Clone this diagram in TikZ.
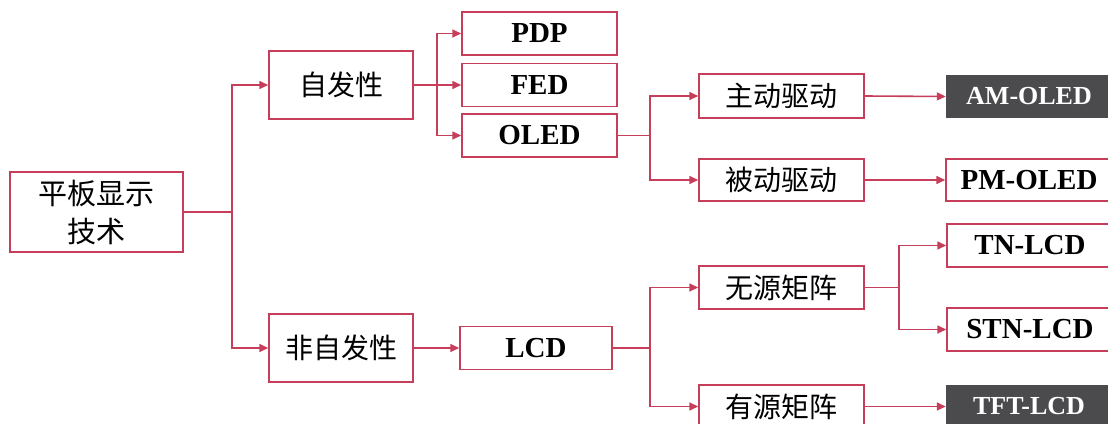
\documentclass[tikz,border=0pt]{standalone}
\usepackage{fontspec}
\setmainfont{Liberation Serif}
\newfontfamily\cjk{Noto Sans CJK SC}
\usetikzlibrary{arrows.meta}
\definecolor{lnred}{RGB}{199,62,90}
\definecolor{darkbox}{RGB}{75,75,78}
\tikzset{
  box/.style={draw=lnred, line width=1.5pt, fill=white, inner sep=0pt, anchor=center},
  cbox/.style={box, font=\cjk\fontsize{28}{36}\selectfont},
  ebox/.style={box, font=\bfseries\fontsize{29}{34}\selectfont},
  dbox/.style={draw=none, fill=darkbox, text=white, inner sep=0pt, anchor=center, font=\bfseries\fontsize{26}{30}\selectfont},
  conn/.style={draw=lnred, line width=1.6pt},
  arr/.style={conn, -{Triangle[length=9pt,width=8pt]}}
}
\begin{document}
\begin{tikzpicture}[x=1pt,y=-1pt]
\useasboundingbox (0,0) rectangle (1108,423);
\clip (0,0) rectangle (1108,423);
% nodes
\node[cbox, minimum width=173pt, minimum height=80pt, align=center, font=\cjk\fontsize{29}{37}\selectfont] (root) at (96.5,212) {平板显示\\[1pt]技术};
\node[cbox, minimum width=144pt, minimum height=68pt] (zifa) at (341,85) {自发性};
\node[cbox, minimum width=144pt, minimum height=68pt] (feizifa) at (341,348) {非自发性};
\node[ebox, minimum width=155pt, minimum height=43pt] (pdp) at (539.5,33.5) {PDP};
\node[ebox, minimum width=155pt, minimum height=43pt] (fed) at (539.5,85) {FED};
\node[ebox, minimum width=155pt, minimum height=43pt] (oled) at (539.5,135.5) {OLED};
\node[ebox, minimum width=152pt, minimum height=43pt] (lcd) at (536,348) {LCD};
\node[cbox, minimum width=165pt, minimum height=44pt] (zhudong) at (781.5,96) {主动驱动};
\node[cbox, minimum width=165pt, minimum height=42pt] (beidong) at (781.5,180) {被动驱动};
\node[cbox, minimum width=165pt, minimum height=43pt] (wuyuan) at (781.5,287.5) {无源矩阵};
\node[cbox, minimum width=165pt, minimum height=43pt] (youyuan) at (781.5,406.5) {有源矩阵};
\node[dbox, minimum width=166pt, minimum height=43pt] (am) at (1029,96.5) {AM-OLED};
\node[ebox, minimum width=166pt, minimum height=42pt] (pm) at (1029,180) {PM-OLED};
\node[ebox, minimum width=166pt, minimum height=43pt] (tn) at (1030,245.5) {TN-LCD};
\node[ebox, minimum width=166pt, minimum height=43pt] (stn) at (1030,329.5) {STN-LCD};
\node[dbox, minimum width=166pt, minimum height=43pt] (tft) at (1029,406.5) {TFT-LCD};
% junctions
\coordinate (j1) at (232,212);
\coordinate (j2) at (437,85);
\coordinate (j3) at (650,135.5);
\coordinate (j4) at (650,348);
\coordinate (j5) at (899,287.5);
% connectors
\draw[conn] (root.east) -- (j1);
\draw[arr] (j1) |- (zifa.west);
\draw[arr] (j1) |- (feizifa.west);
\draw[conn] (zifa.east) -- (j2);
\draw[arr] (j2) |- (pdp.west);
\draw[arr] (j2) -- (fed.west);
\draw[arr] (j2) |- (oled.west);
\draw[conn] (oled.east) -- (j3);
\draw[arr] (j3) |- (zhudong.west);
\draw[arr] (j3) |- (beidong.west);
\draw[arr] (zhudong.east) -- (am.west);
\draw[arr] (beidong.east) -- (pm.west);
\draw[arr] (feizifa.east) -- (lcd.west);
\draw[conn] (lcd.east) -- (j4);
\draw[arr] (j4) |- (wuyuan.west);
\draw[arr] (j4) |- (youyuan.west);
\draw[conn] (wuyuan.east) -- (j5);
\draw[arr] (j5) |- (tn.west);
\draw[arr] (j5) |- (stn.west);
\draw[arr] (youyuan.east) -- (tft.west);
\end{tikzpicture}
\end{document}
